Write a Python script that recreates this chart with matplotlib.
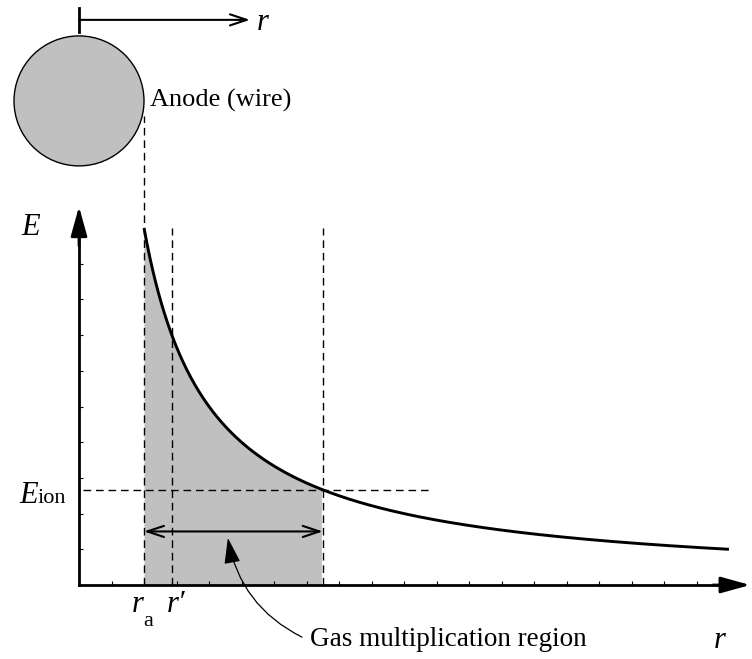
import numpy as np
import matplotlib
matplotlib.use("Agg")
import matplotlib.pyplot as plt
from matplotlib.patches import Ellipse

plt.rcParams['font.family'] = ['Liberation Serif', 'DejaVu Serif']

# ---- data (schematic units) ----
k_field = 20.0          # E = k / r
r_anode = 2.0           # wire radius r_a
r_prime = 2.86          # r'
E_ion = 2.667           # ionisation threshold field
r_ion = k_field / E_ion # end of gas multiplication region (7.5)
r_end = 20.0            # end of drawn curve
x_ticks = list(range(1, 21))
y_ticks = list(range(1, 10))
E_top = 10.0            # top of the dashed guides
eion_line_end = 10.8
arrow_E = 1.5           # height of the double arrow

r = np.linspace(r_anode, r_end, 400)
E = k_field / r

fig = plt.figure(figsize=(7.52, 6.59), dpi=100)
ax = fig.add_axes([0, 0, 1, 1])
ax.set_xlim(-79 / 32.5, (752 - 79) / 32.5)
ax.set_ylim((585 - 659) / 35.7, 585 / 35.7)

# axes spines through origin
for s in ['top', 'right']:
    ax.spines[s].set_visible(False)
ax.spines['left'].set_position(('data', 0))
ax.spines['bottom'].set_position(('data', 0))
ax.spines['left'].set_bounds(0, 10.0)
ax.spines['bottom'].set_bounds(0, 20.0)
ax.spines['left'].set_linewidth(2.0)
ax.spines['bottom'].set_linewidth(2.0)
ax.set_xticks(x_ticks)
ax.set_yticks(y_ticks)
ax.tick_params(direction='in', length=3, width=0.8, labelbottom=False, labelleft=False)

# arrowheads on axes
ax.annotate('', xy=(20.65, 0), xytext=(19.5, 0),
            arrowprops=dict(arrowstyle='-|>,head_length=0.9,head_width=0.25',
                            mutation_scale=20, color='k', lw=2.0, shrinkA=0, shrinkB=0))
ax.annotate('', xy=(0, 10.6), xytext=(0, 9.5),
            arrowprops=dict(arrowstyle='-|>,head_length=0.9,head_width=0.25',
                            mutation_scale=20, color='k', lw=2.0, shrinkA=0, shrinkB=0))

# shaded multiplication region
mask = r <= r_ion
ax.fill_between(r[mask], 0, E[mask], color='#c0c0c0', lw=0, zorder=1)

# curve
ax.plot(r, E, color='k', lw=2.1, zorder=4, solid_capstyle='butt')

dash = dict(color='k', lw=1.0, dashes=(5.5, 3.5), zorder=3)
circle_cy = 13.56
ax.plot([r_anode, r_anode], [0, 13.15], **dash)
ax.plot([r_prime, r_prime], [0, E_top], **dash)
ax.plot([r_ion, r_ion], [0, E_top], **dash)
ax.plot([0.12, eion_line_end], [E_ion, E_ion], **dash)

# double arrow
ax.annotate('', xy=(r_anode, arrow_E), xytext=(r_ion, arrow_E),
            arrowprops=dict(arrowstyle='<->,head_length=0.6,head_width=0.2',
                            mutation_scale=20, color='k', lw=1.5, shrinkA=0, shrinkB=0),
            zorder=5)

# wire (anode) circle
ax.add_patch(Ellipse((0, circle_cy), 2 * r_anode, 2 * r_anode * 32.5 / 35.7,
                     facecolor='#c0c0c0', edgecolor='k', lw=1.0, zorder=2))

# top r arrow with start bar
top_E = 15.83
ax.annotate('', xy=(5.26, top_E), xytext=(0, top_E),
            arrowprops=dict(arrowstyle='->,head_length=0.6,head_width=0.2',
                            mutation_scale=20, color='k', lw=1.5, shrinkA=0, shrinkB=0))
ax.plot([0, 0], [15.49, 16.16], color='k', lw=2.0)

# labels
it = dict(fontsize=22, style='italic', va='baseline')
ax.text(5.48, 15.55, 'r', ha='left', **it)
ax.text(2.18, circle_cy, 'Anode (wire)', fontsize=19, ha='left', va='center')
ax.text(-1.78, 9.8, 'E', ha='left', **it)
ax.text(-1.82, 2.3, 'E', ha='left', **it)
ax.text(-1.29, 2.3, 'ion', fontsize=16, ha='left', va='baseline')
ax.text(1.63, -0.756, 'r', ha='left', **it)
ax.text(1.97, -1.15, 'a', fontsize=16, ha='left', va='baseline')
ax.text(2.71, -0.756, 'r\u2032', ha='left', **it)
ax.text(19.7, -1.76, 'r', ha='center', **it)
ax.text(7.1, -1.54, 'Gas multiplication region', fontsize=19.5, ha='left', va='center')

# curved pointer arrow
ax.annotate('', xy=(4.58, 1.32), xytext=(6.86, -1.46),
            arrowprops=dict(arrowstyle='-|>,head_length=0.8,head_width=0.25',
                            mutation_scale=20, color='k', lw=0.9,
                            connectionstyle='arc3,rad=-0.25', shrinkA=0, shrinkB=0),
            zorder=6)

fig.savefig('out.png', dpi=100)
